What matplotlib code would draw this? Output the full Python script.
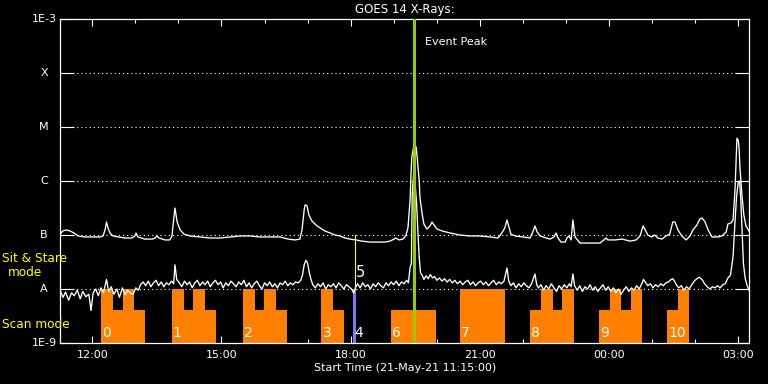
import matplotlib
matplotlib.use("Agg")
import matplotlib.pyplot as plt

# time axis: decimal hours from 00:00 on 21-May (values > 24 are next day)
T_START, T_END = 11.25, 27.25
TICK_HOURS = [12, 15, 18, 21, 24, 27]
TICK_LABELS = ["12:00", "15:00", "18:00", "21:00", "00:00", "03:00"]
MINOR_HOURS = [h for h in range(12, 28)]

Y_TICKS = [1e-9, 1e-8, 1e-7, 1e-6, 1e-5, 1e-4, 1e-3]
Y_LABELS = ["1E-9", "A", "B", "C", "M", "X", "1E-3"]

# long channel (1-8 A), flux in units of 1e-7 W/m^2
LONG_T = [11.25, 11.32, 11.39, 11.48, 11.575, 11.67, 11.83, 12.06, 12.18, 12.25,
          12.295, 12.33, 12.365, 12.41, 12.48, 12.60, 12.76, 12.92, 12.99, 13.015,
          13.06, 13.22, 13.39, 13.46, 13.50, 13.55, 13.69, 13.80, 13.85, 13.90,
          13.92, 13.97, 14.04, 14.13, 14.27, 14.50, 14.73, 14.97, 15.20, 15.43,
          15.66, 15.89, 16.13, 16.36, 16.545, 16.71, 16.82, 16.87, 16.92, 16.94,
          16.985, 17.03, 17.10, 17.195, 17.29, 17.40, 17.52, 17.64, 17.75, 17.87,
          17.98, 18.12, 18.26, 18.45, 18.635, 18.80, 18.91, 19.01, 19.05, 19.12,
          19.215, 19.285, 19.33, 19.38, 19.40, 19.42, 19.47, 19.52, 19.54, 19.56,
          19.59, 19.61, 19.66, 19.70, 19.77, 19.84, 19.89, 19.935, 20.005, 20.12,
          20.31, 20.54, 20.77, 21.00, 21.24, 21.42, 21.51, 21.58, 21.63, 21.68,
          21.72, 21.82, 21.98, 22.165, 22.23, 22.28, 22.33, 22.40, 22.54, 22.63,
          22.72, 22.77, 22.815, 22.885, 22.98, 23.02, 23.07, 23.12, 23.16, 23.21,
          23.325, 23.56, 23.79, 23.88, 23.93, 23.975, 24.14, 24.30, 24.49, 24.63,
          24.72, 24.79, 24.83, 24.90, 24.99, 25.06, 25.13, 25.23, 25.32, 25.41,
          25.48, 25.53, 25.60, 25.69, 25.79, 25.88, 25.95, 26.04, 26.11, 26.16,
          26.23, 26.30, 26.39, 26.53, 26.62, 26.72, 26.76, 26.83, 26.88, 26.925,
          26.95, 26.97, 27.00, 27.02, 27.04, 27.09, 27.13, 27.18, 27.25]
LONG_FLUX_E7 = [1.04, 1.19, 1.24, 1.19, 1.09, 0.96, 0.92, 0.92, 0.92, 0.96,
                1.24, 1.74, 1.35, 1.09, 0.96, 0.92, 0.88, 0.88, 0.96, 1.09,
                0.92, 0.84, 0.84, 0.88, 0.96, 0.88, 0.81, 0.81, 0.96, 2.34,
                3.16, 1.74, 1.24, 1.04, 0.96, 0.92, 0.88, 0.88, 0.92, 0.96,
                0.96, 0.92, 0.92, 0.92, 0.84, 0.81, 0.84, 1.24, 2.9, 3.6,
                3.5, 2.34, 1.82, 1.53, 1.35, 1.19, 1.09, 1.0, 0.96, 0.88,
                0.84, 0.81, 0.77, 0.74, 0.74, 0.74, 0.77, 0.84, 0.88, 0.81,
                0.84, 1.0, 1.35, 4.45, 12.9, 27.8, 46.4, 42.6, 30.0, 19.8,
                10.5, 4.85, 2.45, 1.6, 1.29, 1.47, 1.74, 1.53, 1.29, 1.19,
                1.09, 1.0, 0.96, 0.96, 0.92, 0.88, 1.09, 1.35, 1.9, 1.35,
                1.04, 0.96, 0.92, 0.88, 1.14, 1.47, 1.14, 0.96, 0.88, 0.84,
                0.92, 1.09, 0.88, 0.74, 0.74, 0.88, 0.96, 0.81, 1.9, 0.92,
                0.71, 0.71, 0.71, 0.81, 0.88, 0.81, 0.81, 0.84, 0.77, 0.81,
                0.96, 1.47, 1.29, 1.0, 0.92, 1.0, 0.88, 0.84, 0.96, 1.04,
                1.74, 1.74, 1.24, 0.96, 0.81, 0.96, 1.24, 1.53, 1.98, 2.06,
                1.74, 1.24, 0.92, 0.92, 0.96, 1.14, 1.6, 1.67, 1.9, 6.8,
                24.5, 62.0, 57.0, 40.8, 17.4, 5.06, 2.34, 1.47, 1.19]

# short channel (0.5-4 A), flux in units of 1e-8 W/m^2
SHORT_T = [11.25, 11.32, 11.38, 11.45, 11.52, 11.58, 11.65, 11.72, 11.78, 11.85,
           11.92, 11.97, 12.02, 12.08, 12.14, 12.20, 12.26, 12.33, 12.38, 12.44,
           12.50, 12.57, 12.63, 12.70, 12.76, 12.82, 12.88, 12.95, 13.01, 13.07,
           13.12, 13.18, 13.24, 13.30, 13.36, 13.42, 13.48, 13.54, 13.60, 13.66,
           13.72, 13.78, 13.84, 13.89, 13.92, 13.96, 14.02, 14.08, 14.14, 14.20,
           14.26, 14.32, 14.38, 14.44, 14.50, 14.56, 14.62, 14.68, 14.74, 14.80,
           14.86, 14.92, 14.98, 15.04, 15.10, 15.16, 15.22, 15.28, 15.34, 15.40,
           15.46, 15.52, 15.58, 15.64, 15.70, 15.76, 15.82, 15.88, 15.94, 16.00,
           16.06, 16.12, 16.18, 16.24, 16.30, 16.36, 16.42, 16.48, 16.54, 16.60,
           16.66, 16.72, 16.78, 16.84, 16.88, 16.92, 16.96, 17.00, 17.04, 17.08,
           17.12, 17.18, 17.24, 17.30, 17.36, 17.42, 17.48, 17.54, 17.60, 17.66,
           17.72, 17.78, 17.84, 17.90, 17.96, 18.02, 18.07, 18.11, 18.16, 18.22,
           18.28, 18.34, 18.40, 18.46, 18.52, 18.58, 18.64, 18.70, 18.76, 18.82,
           18.88, 18.94, 19.00, 19.06, 19.12, 19.18, 19.24, 19.30, 19.34, 19.38,
           19.41, 19.43, 19.46, 19.49, 19.53, 19.56, 19.59, 19.62, 19.66, 19.70,
           19.75, 19.80, 19.85, 19.90, 19.95, 20.00, 20.06, 20.12, 20.18, 20.24,
           20.30, 20.36, 20.42, 20.48, 20.54, 20.60, 20.66, 20.72, 20.78, 20.84,
           20.90, 20.96, 21.02, 21.08, 21.14, 21.20, 21.26, 21.32, 21.38, 21.44,
           21.50, 21.56, 21.63, 21.67, 21.72, 21.78, 21.84, 21.90, 21.96, 22.02,
           22.08, 22.14, 22.20, 22.28, 22.32, 22.36, 22.42, 22.48, 22.54, 22.60,
           22.66, 22.72, 22.78, 22.84, 22.90, 22.96, 23.02, 23.08, 23.12, 23.16,
           23.20, 23.26, 23.32, 23.38, 23.44, 23.50, 23.56, 23.62, 23.68, 23.74,
           23.80, 23.86, 23.92, 23.98, 24.04, 24.10, 24.16, 24.22, 24.28, 24.34,
           24.40, 24.46, 24.52, 24.58, 24.64, 24.70, 24.76, 24.80, 24.84, 24.90,
           24.96, 25.02, 25.08, 25.14, 25.20, 25.26, 25.32, 25.38, 25.44, 25.48,
           25.52, 25.56, 25.62, 25.68, 25.74, 25.80, 25.86, 25.92, 25.98, 26.04,
           26.10, 26.16, 26.22, 26.28, 26.34, 26.40, 26.46, 26.52, 26.58, 26.64,
           26.70, 26.76, 26.82, 26.88, 26.92, 26.96, 27.00, 27.03, 27.06, 27.09,
           27.12, 27.16, 27.20, 27.25]
SHORT_FLUX_E8 = [0.95, 0.70, 0.88, 0.62, 0.85, 0.75, 0.95, 0.66, 0.90, 0.72,
                 0.80, 0.40, 0.85, 1.00, 0.75, 1.05, 0.85, 1.50, 0.90, 1.10,
                 0.80, 1.00, 0.70, 1.05, 0.78, 0.95, 0.85, 0.80, 1.05, 0.95,
                 1.20, 1.35, 1.15, 1.40, 1.10, 1.30, 1.45, 1.15, 1.35, 1.10,
                 1.30, 1.20, 1.40, 1.25, 2.80, 1.50, 1.30, 1.10, 1.40, 1.20,
                 1.35, 1.05, 1.30, 1.45, 1.15, 1.35, 1.20, 1.40, 1.10, 1.30,
                 1.45, 1.20, 1.35, 1.05, 1.30, 1.15, 1.40, 1.25, 1.10, 1.35,
                 1.20, 1.45, 1.10, 1.30, 1.05, 1.25, 1.40, 1.15, 1.00, 1.30,
                 1.15, 1.35, 1.10, 1.25, 1.05, 1.30, 1.20, 1.40, 1.15, 1.30,
                 1.20, 1.35, 1.30, 1.45, 1.80, 2.80, 3.40, 3.00, 2.00, 1.50,
                 1.20, 1.05, 1.25, 1.10, 1.30, 1.00, 1.20, 1.10, 1.25, 1.05,
                 1.30, 1.15, 1.00, 1.20, 1.10, 1.00, 0.84, 1.05, 1.25, 1.05,
                 1.30, 1.10, 1.20, 1.00, 1.25, 1.10, 1.30, 1.15, 1.05, 1.30,
                 1.15, 1.35, 1.20, 1.40, 1.15, 1.35, 1.25, 1.45, 1.30, 2.50,
                 3.00, 60.0, 130.0, 100.0, 40.0, 12.0, 4.00, 2.00, 1.80, 1.50,
                 1.75, 1.55, 1.85, 1.60, 1.70, 1.45, 1.60, 1.40, 1.55, 1.35,
                 1.50, 1.30, 1.45, 1.25, 1.40, 1.20, 1.35, 1.45, 1.20, 1.35,
                 1.15, 1.30, 1.40, 1.20, 1.35, 1.15, 1.30, 1.45, 1.20, 1.35,
                 1.25, 1.40, 2.45, 1.40, 1.15, 1.30, 1.05, 1.25, 1.10, 1.30,
                 1.15, 1.05, 1.25, 1.90, 1.20, 1.05, 1.20, 0.95, 1.15, 1.00,
                 1.25, 1.05, 0.90, 1.15, 1.00, 1.20, 1.05, 1.25, 1.10, 1.90,
                 1.15, 0.95, 1.15, 0.90, 1.10, 1.00, 1.20, 0.95, 1.10, 0.90,
                 1.05, 1.20, 0.95, 1.10, 0.90, 1.05, 0.85, 1.00, 0.80, 0.95,
                 1.10, 0.90, 1.05, 0.95, 1.15, 1.00, 1.25, 1.50, 1.35, 1.15,
                 1.25, 1.05, 1.20, 1.10, 1.25, 1.15, 1.30, 1.35, 1.50, 1.55,
                 1.40, 1.20, 1.05, 1.15, 0.95, 1.10, 1.00, 1.20, 1.40, 1.55,
                 1.65, 1.50, 1.25, 1.10, 1.00, 1.10, 1.05, 1.15, 1.05, 1.20,
                 1.25, 1.60, 1.80, 4.00, 15.0, 50.0, 95.0, 100.0, 45.0, 12.0,
                 3.00, 1.60, 1.20, 0.95]

# scan-mode blocks: start hour, end hour, top flux
SCAN_START = [12.20, 12.48, 12.71, 12.97, 13.85, 14.13, 14.34, 14.62,
              15.50, 15.78, 15.99, 16.27, 17.31, 17.59, 18.94, 20.54,
              22.165, 22.42, 22.70, 22.91, 23.77, 24.02, 24.28, 24.51,
              25.35, 25.60]
SCAN_END = [12.48, 12.71, 12.97, 13.22, 14.13, 14.34, 14.62, 14.87,
            15.78, 15.99, 16.27, 16.52, 17.59, 17.845, 19.98, 21.58,
            22.42, 22.70, 22.91, 23.19, 24.02, 24.28, 24.51, 24.77,
            25.60, 25.86]
SCAN_TOP = [1e-8, 4e-9, 1e-8, 4e-9, 1e-8, 4e-9, 1e-8, 4e-9,
            1e-8, 4e-9, 1e-8, 4e-9, 1e-8, 4e-9, 4e-9, 1e-8,
            4e-9, 1e-8, 4e-9, 1e-8, 4e-9, 1e-8, 4e-9, 1e-8,
            4e-9, 1e-8]
SCAN_IDS = ["0", "1", "2", "3", "4", "6", "7", "8", "9", "10"]
SCAN_ID_T = [12.22, 13.87, 15.52, 17.36, 18.08, 18.96, 20.56, 22.19, 23.79, 25.37]

STARE_T = (18.06, 18.12)      # sit & stare interval (4)
STARE_MARK_T = 18.11          # yellow marker (5)
EVENT_PEAK_T = 19.46

ORANGE = "#ff8000"
YELLOW = "#ffff00"

fig = plt.figure(figsize=(7.68, 3.84), dpi=100, facecolor="black")
ax = fig.add_axes([60 / 768, 41 / 384, 689 / 768, 324 / 384], facecolor="black")
ax.set_yscale("log")
ax.set_xlim(T_START, T_END)
ax.set_ylim(1e-9, 1e-3)

# dotted flare-class levels
for lev in Y_TICKS[1:-1]:
    ax.axhline(lev, color="white", lw=0.8, ls=(0, (1, 2.75)), zorder=1)

# scan mode blocks
ax.bar(SCAN_START, [t - 1e-9 for t in SCAN_TOP], bottom=1e-9,
       width=[e - s for s, e in zip(SCAN_START, SCAN_END)], align="edge",
       color=ORANGE, lw=0, zorder=2)
ax.bar(STARE_T[0], 1e-8 - 1e-9, bottom=1e-9, width=STARE_T[1] - STARE_T[0],
       align="edge", color="#7878ff", lw=0, zorder=2)

ax.plot(LONG_T, [v * 1e-7 for v in LONG_FLUX_E7], color="white", lw=0.95, zorder=3)
ax.plot(SHORT_T, [v * 1e-8 for v in SHORT_FLUX_E8], color="white", lw=0.95, zorder=3)

ax.plot([STARE_MARK_T, STARE_MARK_T], [1e-8, 1e-7], color=YELLOW, lw=0.8, zorder=4)
ax.axvline(EVENT_PEAK_T, color="#99cc00", lw=2.2, zorder=4)

for lbl, t in zip(SCAN_IDS, SCAN_ID_T):
    ax.text(t, 1.15e-9, lbl, color="white", fontsize=10, ha="left", va="bottom", zorder=5)
ax.text(STARE_MARK_T + 0.01, 2.0e-8, "5", color="white", fontsize=10.5,
        ha="left", va="center", zorder=5)
ax.text(EVENT_PEAK_T + 0.27, 3.7e-4, "Event Peak", color="white", fontsize=8,
        ha="left", va="center")

# axes styling
for sp in ax.spines.values():
    sp.set_color("white")
    sp.set_linewidth(0.9)
ax.set_xticks(TICK_HOURS)
ax.set_xticklabels(TICK_LABELS)
ax.set_xticks(MINOR_HOURS, minor=True)
ax.tick_params(axis="x", which="both", direction="in", top=True, colors="white",
               labelsize=8, pad=5)
ax.tick_params(axis="x", which="major", length=5, width=0.8)
ax.tick_params(axis="x", which="minor", length=3, width=0.8)
ax.set_yticks(Y_TICKS)
ax.set_yticklabels([])
ax.yaxis.set_minor_locator(matplotlib.ticker.NullLocator())
ax.tick_params(axis="y", which="major", direction="in", right=True, colors="white",
               length=10, width=0.8)
for lbl, lev in zip(Y_LABELS, Y_TICKS):
    if lbl.startswith("1E"):
        ax.annotate(lbl, (0, lev), xycoords=("axes fraction", "data"),
                    xytext=(-2.5, 0), textcoords="offset points",
                    color="white", fontsize=8, ha="right", va="center")
    else:
        ax.annotate(lbl, (0, lev), xycoords=("axes fraction", "data"),
                    xytext=(-11.5, 0), textcoords="offset points",
                    color="white", fontsize=8, ha="center", va="center")

fig.text(404.5 / 768, 1 - 9 / 384, "GOES 14 X-Rays:", color="white", fontsize=8.5,
         ha="center", va="center")
fig.text(405 / 768, 1 - 368 / 384, "Start Time (21-May-21 11:15:00)", color="white",
         fontsize=8, ha="center", va="center")
fig.text(2 / 768, 1 - 259 / 384, "Sit & Stare", color=YELLOW, fontsize=8.7,
         ha="left", va="center")
fig.text(25 / 768, 1 - 272 / 384, "mode", color=YELLOW, fontsize=8.7,
         ha="center", va="center")
fig.text(2 / 768, 1 - 324 / 384, "Scan mode", color=YELLOW, fontsize=8.7,
         ha="left", va="center")

fig.savefig("out.png", dpi=100, facecolor="black")
